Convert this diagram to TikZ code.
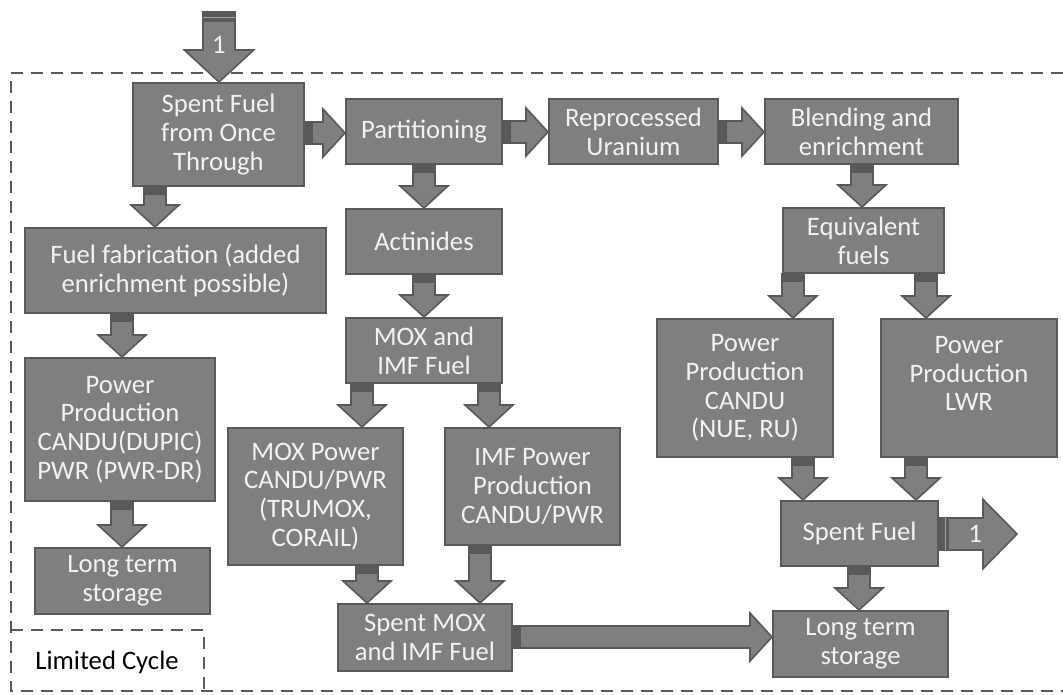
\documentclass[tikz,border=0pt]{standalone}
\usepackage{fontspec}
\setmainfont{Carlito}
\usetikzlibrary{calc}
\definecolor{boxfill}{HTML}{7F7F7F}
\definecolor{boxline}{HTML}{595959}
\definecolor{boxtext}{HTML}{F2F2F2}
\definecolor{dashc}{HTML}{595959}
\tikzset{
 box/.style={draw=boxline, fill=boxfill, line width=1.5pt, inner sep=0pt, text=boxtext, align=center, font=\fontsize{20}{21.5}\selectfont},
 arrowbody/.style={draw=boxline, fill=boxfill, line width=1.2pt, line join=miter},
 arrowtail/.style={fill=boxline},
 frame/.style={draw=dashc, line width=1.6pt, dash pattern=on 9pt off 6pt},
 lbl/.style={text=boxtext, font=\fontsize{20}{21.5}\selectfont},
}
\newcommand\bx[6]{\node[box, minimum width={(#4-#2)*0.75pt}, minimum height={(#5-#3)*0.75pt}] (#1) at ({(#2+#4)/2},{(#3+#5)/2}) {#6};}
\newcommand\varr[3]{%
 \draw[arrowbody] let \p1=(#1.south), \p2=(#2.north), \p3=(#3,0) in
  (\x3-8.25pt,\y1) -- (\x3-8.25pt,\y2+16.5pt) -- (\x3-18pt,\y2+16.5pt) -- (\x3,\y2) -- (\x3+18pt,\y2+16.5pt) -- (\x3+8.25pt,\y2+16.5pt) -- (\x3+8.25pt,\y1) -- cycle;
 \fill[arrowtail] let \p1=(#1.south), \p3=(#3,0) in (\x3-8.25pt,\y1) rectangle (\x3+8.25pt,\y1-6pt);
}
\newcommand\harr[3]{%
 \draw[arrowbody] let \p1=(#1.east), \p2=(#2.west), \p3=(0,#3) in
  (\x1,\y3+8.25pt) -- (\x2-16.5pt,\y3+8.25pt) -- (\x2-16.5pt,\y3+18pt) -- (\x2,\y3) -- (\x2-16.5pt,\y3-18pt) -- (\x2-16.5pt,\y3-8.25pt) -- (\x1,\y3-8.25pt) -- cycle;
 \fill[arrowtail] let \p1=(#1.east), \p3=(0,#3) in (\x1,\y3-8.25pt) rectangle (\x1+6pt,\y3+8.25pt);
}
\begin{document}
\begin{tikzpicture}[x=0.75pt,y=-0.75pt]
\useasboundingbox (0,0) rectangle (1063,694);
% dashed frames
\draw[frame] (1063,73) -- (11,73) -- (11,691) -- (1063,691);
\draw[frame] (11,630) -- (204,630) -- (204,691);
\node[font=\fontsize{20}{21.5}\selectfont, text=black] (lc) at (107,662) {Limited Cycle};
% boxes
\bx{sfot}{133}{83}{304}{186}{Spent Fuel\\from Once\\Through}
\bx{part}{346}{99}{502}{164}{Partitioning}
\bx{repu}{549}{99}{718}{164}{Reprocessed\\Uranium}
\bx{blend}{765}{99}{958}{164}{Blending and\\enrichment}
\bx{fab}{25}{228}{326}{313}{Fuel fabrication (added\\enrichment possible)}
\bx{act}{346}{209}{502}{274}{Actinides}
\bx{equi}{783}{208}{944}{273}{Equivalent\\fuels}
\bx{ppl}{25}{358}{215}{501}{Power\\Production\\CANDU(DUPIC)\\PWR (PWR-DR)}
\bx{moximf}{346}{318}{502}{383}{MOX and\\IMF Fuel}
\bx{candu}{657}{319}{833}{457}{Power\\Production\\CANDU\\(NUE, RU)}
\bx{lwr}{881}{319}{1057}{457}{Power\\Production\\LWR\\\mbox{}}
\bx{moxp}{228}{428}{403}{565}{MOX Power\\CANDU/PWR\\(TRUMOX,\\CORAIL)}
\bx{imfp}{445}{428}{620}{545}{IMF Power\\Production\\CANDU/PWR}
\bx{ltsl}{35}{548}{210}{614}{Long term\\storage}
\bx{sf}{781}{501}{938}{566}{Spent Fuel}
\bx{smox}{338}{604}{512}{671}{Spent MOX\\and IMF Fuel}
\bx{ltsr}{773}{611}{948}{677}{Long term\\storage}
% horizontal arrows
\harr{sfot}{part}{133}
\harr{part}{repu}{132}
\harr{repu}{blend}{132}
\harr{smox}{ltsr}{637}
% vertical arrows
\varr{blend}{equi}{862}
\varr{sfot}{fab}{155}
\varr{part}{act}{424}
\varr{fab}{ppl}{122}
\varr{act}{moximf}{424}
\varr{equi}{candu}{793}
\varr{equi}{lwr}{926}
\varr{moximf}{moxp}{362}
\varr{moximf}{imfp}{489}
\varr{ppl}{ltsl}{122}
\varr{moxp}{smox}{367}
\varr{imfp}{smox}{480}
\varr{candu}{sf}{803}
\varr{lwr}{sf}{916}
\varr{sf}{ltsr}{859}
% incoming "1" arrow
\coordinate (in1) at (219,12);
\draw[arrowbody] let \p1=(in1), \p2=(sfot.north) in
  (\x1-12pt,\y1) -- (\x1-12pt,\y2+24pt) -- (\x1-26pt,\y2+24pt) -- (\x1,\y2) -- (\x1+26pt,\y2+24pt) -- (\x1+12pt,\y2+24pt) -- (\x1+12pt,\y1) -- cycle;
\fill[arrowtail] let \p1=(in1) in (\x1-12pt,\y1) rectangle (\x1+12pt,\y1-7.5pt);
\draw[boxfill!70!white, line width=0.6pt] let \p1=(in1) in (\x1-12pt,\y1-4pt) -- (\x1+12pt,\y1-4pt);
\node[lbl] (lin1) at (219,45) {1};
% outgoing "1" arrow
\coordinate (out1) at (1017,534);
\draw[arrowbody] let \p1=(sf.east), \p2=(out1) in
  (\x1,\y2+12pt) -- (\x2-25.5pt,\y2+12pt) -- (\x2-25.5pt,\y2+26pt) -- (\x2,\y2) -- (\x2-25.5pt,\y2-26pt) -- (\x2-25.5pt,\y2-12pt) -- (\x1,\y2-12pt) -- cycle;
\fill[arrowtail] let \p1=(sf.east), \p2=(out1) in (\x1,\y2-12pt) rectangle (\x1+7.5pt,\y2+12pt);
\draw[boxfill!70!white, line width=0.6pt] let \p1=(sf.east), \p2=(out1) in (\x1+5pt,\y2-12pt) -- (\x1+5pt,\y2+12pt);
\node[lbl] (lout1) at (975,534) {1};
\end{tikzpicture}
\end{document}
